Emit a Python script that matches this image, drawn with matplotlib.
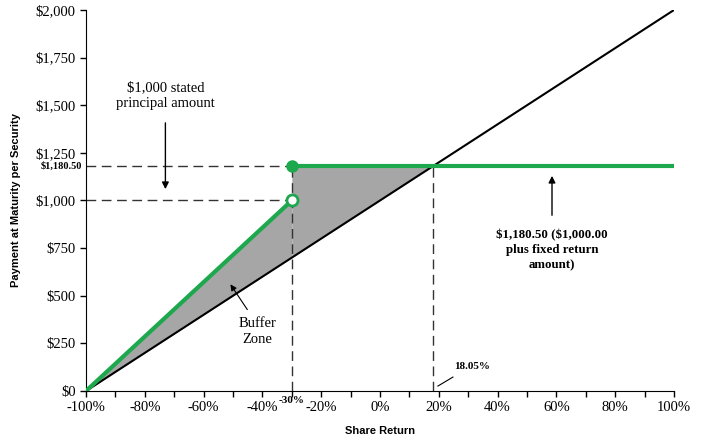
import numpy as np
import matplotlib
matplotlib.use("Agg")
import matplotlib.pyplot as plt
from matplotlib.ticker import FuncFormatter, MultipleLocator

#########################################################
# Data
#########################################################

buffer_level = -30
cap_level = 18.05
principal = 1000.0
capped_payment = 1180.50

x_ticks = np.arange(-100, 101, 20)
y_ticks = np.arange(0, 2001, 250)

GREEN = "#1ea84e"

# payment curves
x_line = np.array([-100, 100])
y_line = principal * (1 + x_line / 100)           # straight share performance
x_buf = np.array([-100, buffer_level])
y_buf = np.array([0, principal])                  # buffered payoff below -30%
x_flat = np.array([buffer_level, 100])
y_flat = np.array([capped_payment, capped_payment])

#########################################################
# Plot
#########################################################

fig = plt.figure(figsize=(7.01, 4.40), dpi=100)
ax = fig.add_axes([0.1227, 0.1114, 0.8388, 0.8659])

serif = "Liberation Serif"
sans = "Liberation Sans"

# gray buffer zone
xf1 = np.linspace(-100, buffer_level, 50)
ax.fill_between(xf1, principal * (1 + xf1 / 100), np.interp(xf1, x_buf, y_buf),
                color="#a6a6a6", lw=0)
xf2 = np.linspace(buffer_level, cap_level, 50)
ax.fill_between(xf2, principal * (1 + xf2 / 100), capped_payment,
                color="#a6a6a6", lw=0)

# dashed guides
dash = dict(color="#333333", lw=1.0, ls=(0, (7, 4)), zorder=2)
ax.plot([-100, buffer_level], [capped_payment, capped_payment], **dash)
ax.plot([-100, buffer_level], [principal, principal], **dash)
ax.plot([buffer_level, buffer_level], [0, capped_payment], **dash)
ax.plot([cap_level, cap_level], [0, capped_payment], **dash)

ax.plot(x_line, y_line, color="black", lw=1.5, zorder=3)
ax.plot(x_buf, y_buf, color=GREEN, lw=3, zorder=4, solid_capstyle="butt")
ax.plot(x_flat, y_flat, color=GREEN, lw=3, zorder=4, solid_capstyle="butt")

ax.plot([buffer_level], [capped_payment], "o", ms=8, color=GREEN, zorder=5)
ax.plot([buffer_level], [principal], "o", ms=8, mfc="white", mec=GREEN,
        mew=2, zorder=5)

ax.set_xlim(-100, 100)
ax.set_ylim(0, 2000)
ax.set_xticks(x_ticks)
ax.xaxis.set_minor_locator(MultipleLocator(10))
ax.set_yticks(y_ticks)
ax.xaxis.set_major_formatter(FuncFormatter(lambda v, p: f"{int(v)}%"))
ax.yaxis.set_major_formatter(FuncFormatter(lambda v, p: f"\\${int(v):,}"))
for lab in ax.get_xticklabels() + ax.get_yticklabels():
    lab.set_fontfamily(serif)
    lab.set_fontsize(10.5)
ax.tick_params(axis="both", which="both", direction="out", length=4, width=1)
ax.tick_params(axis="x", which="minor", length=4)
ax.spines["top"].set_visible(False)
ax.spines["right"].set_visible(False)

ax.set_xlabel("Share Return", fontfamily=sans, fontweight="bold", fontsize=8,
              labelpad=8)
ax.set_ylabel("Payment at Maturity per Security", fontfamily=sans,
              fontweight="bold", fontsize=8, labelpad=10)

# annotations
ax.text(-73, 1549, "\\$1,000 stated\nprincipal amount", ha="center",
        va="center", fontfamily=serif, fontsize=10.5, linespacing=1.3)
ax.annotate("", xy=(-73, 1045), xytext=(-73, 1422),
            arrowprops=dict(arrowstyle="-|>", color="black", lw=1,
                            mutation_scale=10))

ax.text(58.5, 740, "\\$1,180.50 (\\$1,000.00\nplus fixed return\namount)",
        ha="center", va="center", fontfamily=serif, fontweight="bold",
        fontsize=9.3, linespacing=1.35)
ax.annotate("", xy=(58.5, 1144), xytext=(58.5, 908),
            arrowprops=dict(arrowstyle="-|>", color="black", lw=1,
                            mutation_scale=10))

ax.text(-41.8, 310, "Buffer\nZone", ha="center", va="center",
        fontfamily=serif, fontsize=10.5, linespacing=1.3)
ax.annotate("", xy=(-51.4, 572), xytext=(-44.6, 415),
            arrowprops=dict(arrowstyle="-|>", color="black", lw=0.8,
                            mutation_scale=9))

ax.text(31.3, 126, "18.05%", ha="center", va="center", fontfamily=serif,
        fontweight="bold", fontsize=8)
ax.plot([19.7, 24.8], [26, 73], color="black", lw=0.8)

ax.text(buffer_level, -50, "-30%", ha="center", va="center", fontfamily=serif,
        fontweight="bold", fontsize=8, clip_on=False)
ax.text(-101.5, capped_payment, "\\$1,180.50", ha="right", va="center",
        fontfamily=serif, fontweight="bold", fontsize=7.5, clip_on=False)

fig.savefig("out.png", dpi=100)
